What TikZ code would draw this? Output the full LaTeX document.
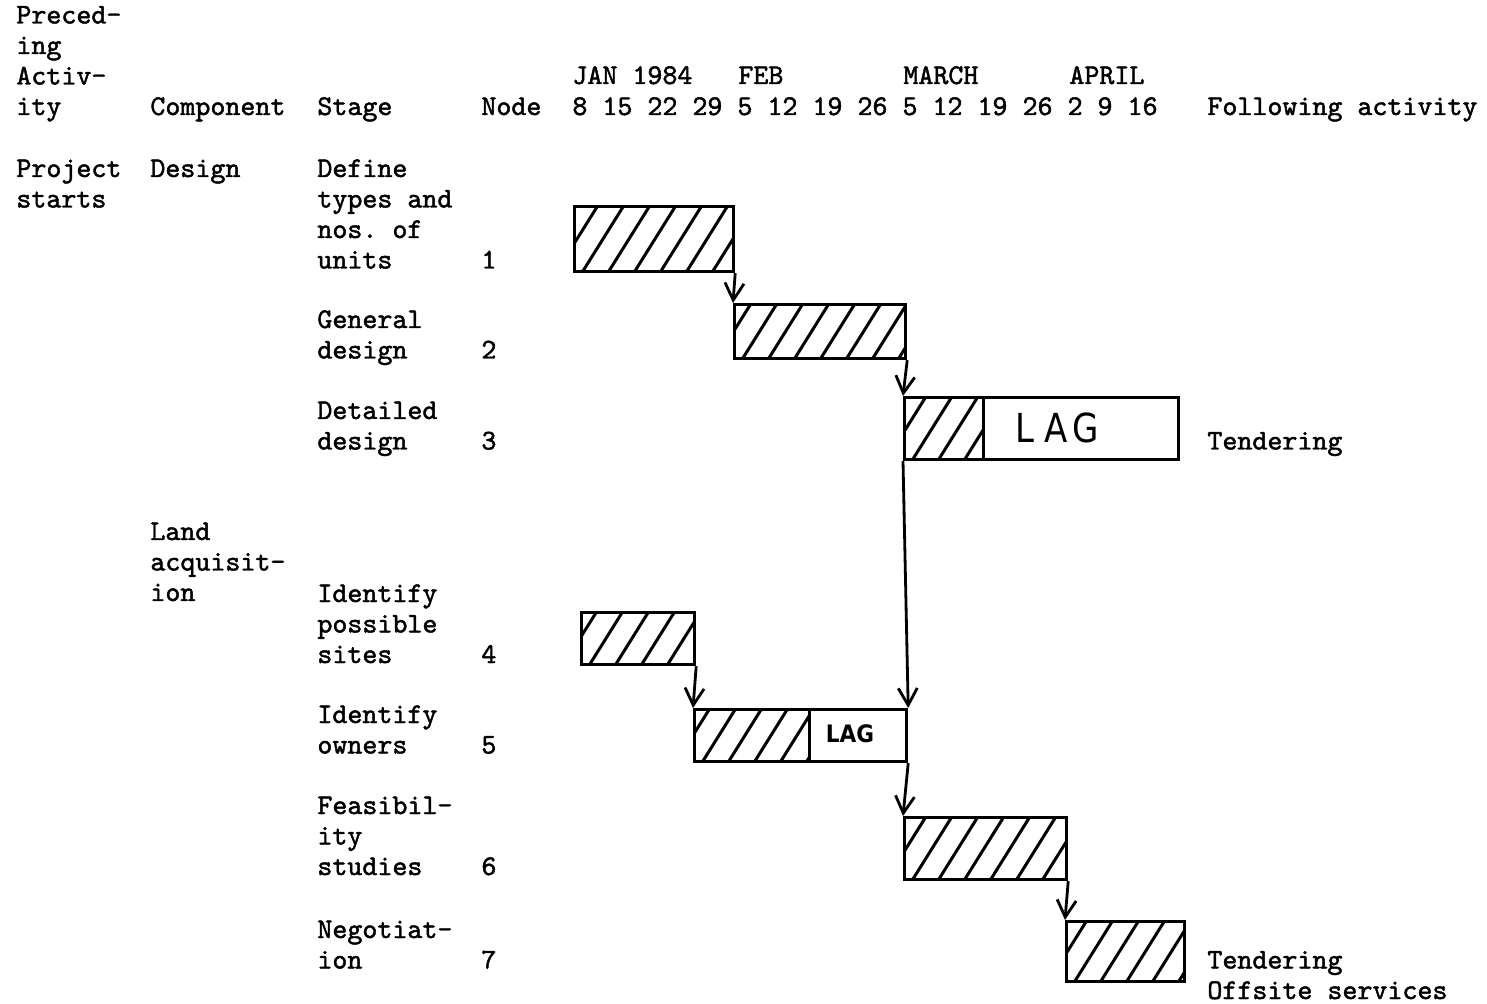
\documentclass[tikz,border=0pt]{standalone}
\usepackage{fontspec}
\usepackage{graphicx}
\usetikzlibrary{arrows.meta}
\newfontfamily\monofnt[FakeBold=1.6]{lmmono10-regular.otf}
\newfontfamily\handfnt{DejaVu Sans}
\tikzset{
  txt/.style={font=\monofnt\fontsize{14.29pt}{15.25pt}\selectfont\frenchspacing, anchor=base west, inner sep=0pt, align=left, yshift=-1pt},
  barbox/.style={draw, line width=1.6pt, inner sep=0pt, anchor=north west},
  hatchline/.style={line width=1.5pt},
  hatch/.style={path picture={
     \foreach \k in {-3,...,9}{
       \draw[hatchline] ([xshift=\k*13pt+4pt]path picture bounding box.south west) -- ++(58:60pt);
     }}},
  conn/.style={draw, line width=1.4pt, -{Straight Barb[length=8.5pt,width=9.5pt,line width=1.4pt]}},
  lagbig/.style={font=\handfnt\fontsize{20pt}{20pt}\selectfont, inner sep=0pt},
  lagsmall/.style={font=\handfnt\bfseries\fontsize{12pt}{12pt}\selectfont, inner sep=0pt}
}
\begin{document}
\frenchspacing
\begin{tikzpicture}[x=0.5pt,y=-0.5pt]
\useasboundingbox (0,0) rectangle (1487,1004);
% headers (multi-line nodes: anchor on baseline of last line)
\node[txt] (hprec) at (16,113) {Preced-\\ing\\Activ-\\ity};
\node[txt] (hcomp) at (150,113) {Component};
\node[txt] (hstage) at (317,113) {Stage};
\node[txt] (hnode) at (481,113) {Node};
\node[txt] (mjan) at (572,82) {JAN 1984};
\node[txt] (mfeb) at (738,82) {FEB};
\node[txt] (mmar) at (903,82) {MARCH};
\node[txt] (mapr) at (1069,82) {APRIL};
\node[txt] (hdates) at (572,113) {8 15 22 29 5 12 19 26 5 12 19 26 2 9 16};
\node[txt] (hfoll) at (1207,113) {Following activity};
% rows
\node[txt] (pstart) at (16,205.5) {Project\\starts};
\node[txt] (cdesign) at (150,175) {Design};
\node[txt] (s1) at (317,266.5) {Define\\types and\\nos. of\\units};
\node[txt] (n1) at (481,266.5) {1};
\node[txt] (s2) at (317,356.5) {General\\design};
\node[txt] (n2) at (481,356.5) {2};
\node[txt] (s3) at (317,447.5) {Detailed\\design};
\node[txt] (n3) at (481,447.5) {3};
\node[txt] (f3) at (1207,447.5) {Tendering};
\node[txt] (cland) at (150,599) {Land\\acquisit-\\ion};
\node[txt] (s4) at (317,661) {Identify\\possible\\sites};
\node[txt] (n4) at (481,661) {4};
\node[txt] (s5) at (317,751.5) {Identify\\owners};
\node[txt] (n5) at (481,751.5) {5};
\node[txt] (s6) at (317,873) {Feasibil-\\ity\\studies};
\node[txt] (n6) at (481,873) {6};
\node[txt] (s7) at (317,966.5) {Negotiat-\\ion};
\node[txt] (n7) at (481,966.5) {7};
\node[txt] (f7) at (1207,997) {Tendering\\Offsite services};
% bars
\node[barbox,hatch,minimum width=79.5pt,minimum height=32.5pt] (b1) at (573,205) {};
\node[barbox,hatch,minimum width=85.5pt,minimum height=27pt] (b2) at (733,303) {};
\node[barbox,hatch,minimum width=39.5pt,minimum height=31pt] (b3a) at (903,396) {};
\node[barbox,minimum width=97.5pt,minimum height=31pt] (b3b) at (982,396) {};
\node[barbox,hatch,minimum width=56.5pt,minimum height=26pt] (b4) at (580,611) {};
\node[barbox,hatch,minimum width=57.5pt,minimum height=26pt] (b5a) at (693,708) {};
\node[barbox,minimum width=48.5pt,minimum height=26pt] (b5b) at (808,708) {};
\node[barbox,hatch,minimum width=81pt,minimum height=31pt] (b6) at (903,816) {};
\node[barbox,hatch,minimum width=59pt,minimum height=30pt] (b7) at (1065,920) {};
% lag labels
\node[lagbig] (lag3) at (1057,428) {\scalebox{0.85}[1]{L\hspace{6pt}A\hspace{3pt}G}};
\node[lagsmall] (lag5) at (850,734) {\scalebox{0.9}[1]{LAG}};
% connectors
\draw[conn] (b1.south east) -- (b2.north west);
\draw[conn] (b2.south east) -- (b3a.north west);
\draw[conn] (b3a.south west) -- (b5b.north east);
\draw[conn] (b4.south east) -- (b5a.north west);
\draw[conn] (b5b.south east) -- (b6.north west);
\draw[conn] (b6.south east) -- (b7.north west);
\end{tikzpicture}
\end{document}
